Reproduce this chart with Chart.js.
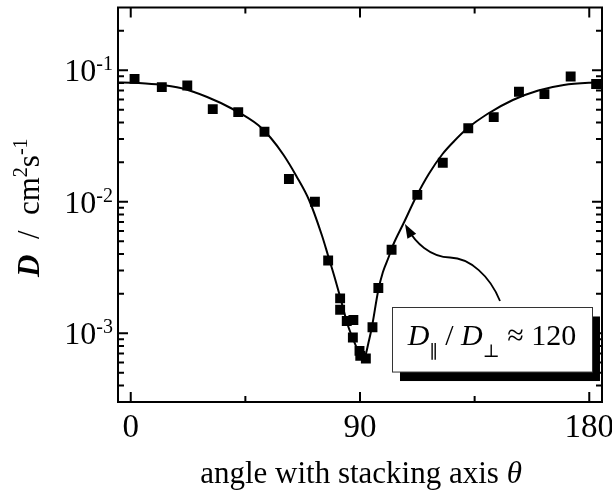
<!DOCTYPE html>
<html>
<head>
<meta charset="utf-8">
<script src="https://cdn.jsdelivr.net/npm/chart.js@4/dist/chart.umd.min.js"></script>
<style>
  html, body { margin: 0; padding: 0; background: #fff; }
  #wrap { width: 612px; height: 492px; }
</style>
</head>
<body>
<div id="wrap"><canvas id="diffChart" width="612" height="492"></canvas></div>
<script>
// measured diffusion coefficients vs. angle
const pointAngles = [1.5, 12.2, 22.2, 32.2, 42.2, 52.5, 62.1, 72.3, 77.5, 82.2, 82.2, 84.8, 87.4, 87.2,
  89.8, 90.1, 92.3, 94.9, 97.2, 102.4, 112.5, 122.5, 132.5, 142.5, 152.4, 162.4, 172.7, 182.7];
const pointD = [0.086, 0.0744, 0.0766, 0.0506, 0.048, 0.0341, 0.0149, 0.0100, 0.00357, 0.00184, 0.00151,
  0.00124, 0.00126, 0.000927, 0.000734, 0.000673, 0.000643, 0.00111, 0.00221, 0.00432, 0.01127, 0.0198,
  0.0362, 0.044, 0.0686, 0.0658, 0.0897, 0.0785];

// fitted curve
const fitAngles = [-5, 0, 10, 20, 30, 40, 50, 55, 60, 65, 70, 75, 77.4, 80, 82.2, 85.2, 88.1, 90.1, 91, 92,
  93.3, 94.6, 97.2, 99, 101.2, 103, 107.1, 112.2, 117, 122.4, 127, 132.2, 140, 150, 160, 170, 180, 185];
const fitD = [0.08066, 0.08037, 0.07816, 0.0729, 0.06256, 0.05073, 0.03835, 0.03053, 0.02266, 0.0157,
  0.01031, 0.005587, 0.003936, 0.002678, 0.001886, 0.001155, 0.000828, 0.000677, 0.000654, 0.000671,
  0.000843, 0.001096, 0.002132, 0.002921, 0.003767, 0.004688, 0.006855, 0.01105, 0.01626, 0.02307,
  0.02896, 0.03618, 0.04646, 0.05937, 0.07013, 0.07719, 0.08023, 0.08066];

const xTickLabels = [0, 90, 180];
const xMinorTicks = [45, 135];
const yTickValues = [1e-3, 1e-2, 1e-1];
const yTickExponents = ['-3', '-2', '-1'];
const ratioText = '120';

// annotation placement, in data units (angle, D)
const boxCorners = { left: 102.56, right: 181.07, top: 0.00157, bottom: 0.000507 };
const arrowPath = [
  [107.66, 0.006773], [111.59, 0.004941], [117.48, 0.0038], [125.33, 0.003767],
  [133.18, 0.003735], [141.03, 0.002724], [144.96, 0.001759]
];

const serif = '"Liberation Serif", "DejaVu Serif", serif';

const framePlugin = {
  id: 'frameAndLabels',
  afterDatasetsDraw(chart) {
    const { ctx, chartArea: a, scales: { x, y } } = chart;
    ctx.save();
    ctx.strokeStyle = '#000';
    ctx.fillStyle = '#000';
    ctx.lineWidth = 2;
    ctx.strokeRect(a.left, a.top, a.right - a.left, a.bottom - a.top);

    // inward ticks on all four sides
    ctx.beginPath();
    const xTick = (v, len) => {
      const px = x.getPixelForValue(v);
      ctx.moveTo(px, a.bottom); ctx.lineTo(px, a.bottom - len);
      ctx.moveTo(px, a.top); ctx.lineTo(px, a.top + len);
    };
    xTickLabels.forEach(v => xTick(v, 10));
    xMinorTicks.forEach(v => xTick(v, 6));
    for (let e = -4; e <= 0; e++) {
      for (let m = 1; m <= 9; m++) {
        const v = m * Math.pow(10, e);
        if (v < y.min * 1.001 || v > y.max * 0.999) continue;
        const py = y.getPixelForValue(v);
        const len = m === 1 ? 10 : 6;
        ctx.moveTo(a.left, py); ctx.lineTo(a.left + len, py);
        ctx.moveTo(a.right, py); ctx.lineTo(a.right - len, py);
      }
    }
    ctx.stroke();

    // x tick labels
    ctx.font = '33px ' + serif;
    ctx.textAlign = 'center';
    ctx.textBaseline = 'alphabetic';
    xTickLabels.forEach(v => ctx.fillText(String(v), x.getPixelForValue(v), a.bottom + 35));

    // y tick labels 10^n
    yTickValues.forEach((v, i) => {
      const py = y.getPixelForValue(v);
      ctx.textAlign = 'right';
      ctx.font = '20px ' + serif;
      const supW = ctx.measureText(yTickExponents[i]).width;
      ctx.fillText(yTickExponents[i], a.left - 5, py);
      ctx.font = '32px ' + serif;
      ctx.fillText('10', a.left - 5 - supW, py + 11);
    });

    // x title
    ctx.textAlign = 'left';
    ctx.font = '31px ' + serif;
    const t1 = 'angle with stacking axis ';
    const w1 = ctx.measureText(t1).width;
    ctx.font = 'italic 31px ' + serif;
    const w2 = ctx.measureText('\u03b8').width;
    const cx = (a.left + a.right) / 2 + 1;
    const sx = cx - (w1 + w2) / 2;
    ctx.font = '31px ' + serif;
    ctx.fillText(t1, sx, a.bottom + 81);
    ctx.font = 'italic 31px ' + serif;
    ctx.fillText('\u03b8', sx + w1, a.bottom + 81);

    // y title, rotated
    ctx.save();
    ctx.translate(39, 277);
    ctx.rotate(-Math.PI / 2);
    let pos = 0;
    const put = (txt, font, dy) => {
      ctx.font = font;
      ctx.fillText(txt, pos, dy);
      pos += ctx.measureText(txt).width;
    };
    put('D', 'bold italic 31px ' + serif, 0);
    put('  /  cm', '31px ' + serif, 0);
    put('2', '20px ' + serif, -12);
    put('s', '31px ' + serif, 0);
    put('-1', '20px ' + serif, -12);
    ctx.restore();

    ctx.restore();
  }
};

const annotationPlugin = {
  id: 'ratioNote',
  afterDraw(chart) {
    const { ctx, scales: { x, y } } = chart;
    ctx.save();
    // arrow
    const p = arrowPath.map(([ang, d]) => [x.getPixelForValue(ang), y.getPixelForValue(d)]);
    ctx.strokeStyle = '#000';
    ctx.lineWidth = 1.8;
    ctx.beginPath();
    ctx.moveTo(p[6][0], p[6][1]);
    ctx.bezierCurveTo(p[5][0], p[5][1], p[4][0], p[4][1], p[3][0], p[3][1]);
    ctx.bezierCurveTo(p[2][0], p[2][1], p[1][0], p[1][1], p[0][0] + 3, p[0][1] + 5);
    ctx.stroke();
    const ang = Math.atan2(p[0][1] - p[1][1], p[0][0] - p[1][0]);
    const hl = 14, hw = 5;
    ctx.beginPath();
    ctx.moveTo(p[0][0], p[0][1]);
    ctx.lineTo(p[0][0] - hl * Math.cos(ang) + hw * Math.sin(ang), p[0][1] - hl * Math.sin(ang) - hw * Math.cos(ang));
    ctx.lineTo(p[0][0] - hl * Math.cos(ang) - hw * Math.sin(ang), p[0][1] - hl * Math.sin(ang) + hw * Math.cos(ang));
    ctx.closePath();
    ctx.fillStyle = '#000';
    ctx.fill();

    // box with drop shadow
    const l = x.getPixelForValue(boxCorners.left), r = x.getPixelForValue(boxCorners.right);
    const t = y.getPixelForValue(boxCorners.top), b = y.getPixelForValue(boxCorners.bottom);
    ctx.fillRect(l + 8, t + 9, r - l, b - t);
    ctx.fillStyle = '#fff';
    ctx.fillRect(l, t, r - l, b - t);
    ctx.strokeStyle = '#333';
    ctx.lineWidth = 1;
    ctx.strokeRect(Math.round(l) + 0.5, Math.round(t) + 0.5, r - l, b - t);

    // D_par / D_perp ≈ 120
    const pieces = [
      { s: 'D', f: 'italic 30px ' + serif, dy: 0 },
      { s: '\u2225', f: '18px ' + serif, dy: 13 },
      { s: ' / ', f: '30px ' + serif, dy: 0 },
      { s: 'D', f: 'italic 30px ' + serif, dy: 0 },
      { s: '\u22a5', f: '18px ' + serif, dy: 12 },
      { s: ' \u2248 ', f: '30px ' + serif, dy: 0 },
      { s: ratioText, f: '30px ' + serif, dy: 0 }
    ];
    let total = 0;
    pieces.forEach(pc => { ctx.font = pc.f; pc.w = ctx.measureText(pc.s).width; total += pc.w; });
    let tx = (l + r) / 2 - total / 2;
    const base = t + 37.5;
    ctx.fillStyle = '#000';
    ctx.textAlign = 'left';
    ctx.textBaseline = 'alphabetic';
    pieces.forEach(pc => { ctx.font = pc.f; ctx.fillText(pc.s, tx, base + pc.dy); tx += pc.w; });
    ctx.restore();
  }
};

new Chart(document.getElementById('diffChart'), {
  type: 'scatter',
  data: {
    datasets: [
      {
        label: 'fit',
        data: fitAngles.map((a, i) => ({ x: a, y: fitD[i] })),
        showLine: true,
        borderColor: '#000',
        borderWidth: 2,
        pointRadius: 0,
        cubicInterpolationMode: 'monotone',
        order: 2
      },
      {
        label: 'D',
        data: pointAngles.map((a, i) => ({ x: a, y: pointD[i] })),
        showLine: false,
        pointStyle: 'rect',
        pointRadius: 7,
        backgroundColor: '#000',
        borderColor: '#000',
        borderWidth: 0,
        order: 1
      }
    ]
  },
  options: {
    responsive: false,
    animation: false,
    devicePixelRatio: 1,
    layout: { padding: { left: 118, top: 7.5, right: 10, bottom: 90 } },
    plugins: { legend: { display: false }, tooltip: { enabled: false } },
    scales: {
      x: { type: 'linear', min: -5, max: 185, display: false },
      y: { type: 'logarithmic', min: 3e-4, max: 0.3, display: false }
    }
  },
  plugins: [framePlugin, annotationPlugin]
});
</script>
</body>
</html>
